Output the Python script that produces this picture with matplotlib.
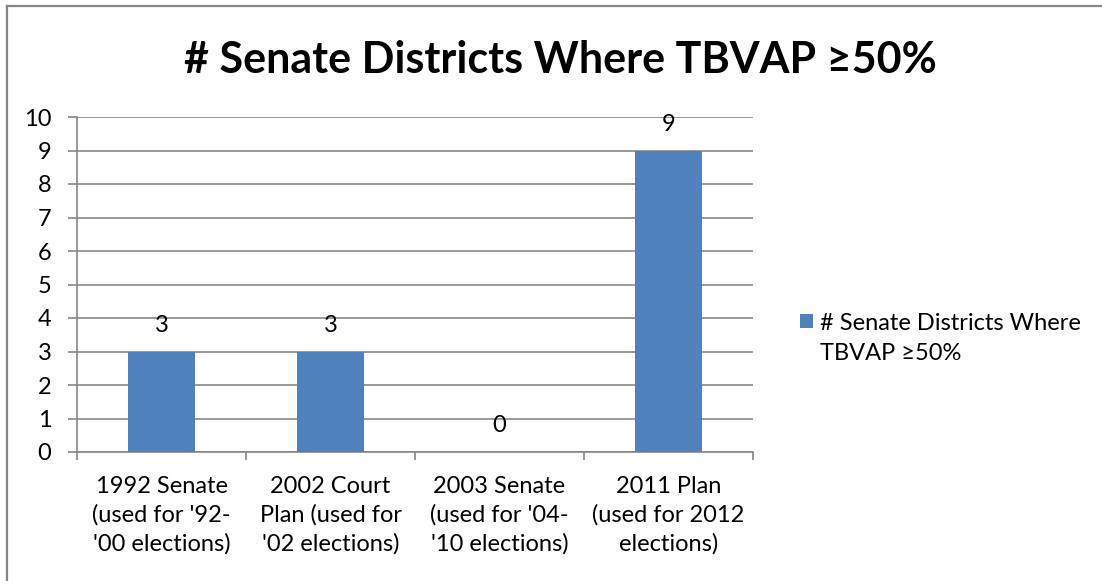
import matplotlib
matplotlib.use("Agg")
import matplotlib.pyplot as plt
from matplotlib.lines import Line2D
from matplotlib.patches import Patch

title = "# Senate Districts Where TBVAP \u226550%"
categories = ["1992 Senate\n(used for '92-\n'00 elections)",
              "2002 Court\nPlan (used for\n'02 elections)",
              "2003 Senate\n(used for '04-\n'10 elections)",
              "2011 Plan\n(used for 2012\nelections)"]
values = [3, 3, 0, 9]
series_name_lines = ["# Senate Districts Where", "TBVAP \u226550%"]
yticks = list(range(0, 11))

BAR = "#4F81BD"
GRID = "#868686"
FONT = ["Lato", "DejaVu Sans"]
plt.rcParams["font.family"] = FONT
FS = 17

W, H = 1102, 581
fig = plt.figure(figsize=(W / 100, H / 100), dpi=100)

# outer chart frame (left and top edges visible)
fig.add_artist(Line2D([7 / W, 7 / W], [0, 1 - 6 / H], transform=fig.transFigure,
                      color="#868686", lw=1.6))
fig.add_artist(Line2D([7 / W, 1], [1 - 6 / H, 1 - 6 / H], transform=fig.transFigure,
                      color="#868686", lw=1.6))

left, right, top, bottom = 77, 753, 117, 452
ax = fig.add_axes([left / W, 1 - bottom / H, (right - left) / W, (bottom - top) / H])

x = list(range(len(values)))
ax.bar(x, values, width=0.4, color=BAR, zorder=3)
for xi, v in zip(x, values):
    ax.annotate(str(v), (xi, v), xytext=(0, 19), textcoords="offset points",
                ha="center", va="center", fontsize=FS, color="black")

ax.set_xlim(-0.5, len(values) - 0.5)
ax.set_ylim(0, 10)
ax.set_yticks(yticks)
ax.set_yticklabels([str(t) for t in yticks], fontsize=FS)
ax.yaxis.grid(True, color=GRID, lw=1.2, zorder=0)
ax.set_axisbelow(True)

ax.set_xticks(x)
ax.set_xticklabels(categories, fontsize=FS, linespacing=1.42)
ax.set_xticks([i - 0.5 for i in range(len(values) + 1)], minor=True)
ax.tick_params(axis="x", which="major", length=0, pad=17)
ax.tick_params(axis="x", which="minor", length=6, color=GRID, width=1.2)
ax.tick_params(axis="y", length=6.5, color=GRID, width=1.2, pad=12)

for s in ["top", "right"]:
    ax.spines[s].set_visible(False)
for s in ["left", "bottom"]:
    ax.spines[s].set_color(GRID)
    ax.spines[s].set_linewidth(1.2)

fig.text(560 / W, 1 - 60 / H, title, ha="center", va="center",
         fontsize=31, fontweight="bold")

handles = [Patch(facecolor=BAR, edgecolor="none"),
           Patch(facecolor="none", edgecolor="none")]
fig.legend(handles, series_name_lines, loc="upper left",
           bbox_to_anchor=(783 / W, 1 - 296 / H), frameon=False, fontsize=FS,
           handlelength=0.55, handleheight=0.55, handletextpad=0.3,
           labelspacing=0.38, borderpad=0.2)

fig.savefig("out.png", dpi=100, facecolor="white")
